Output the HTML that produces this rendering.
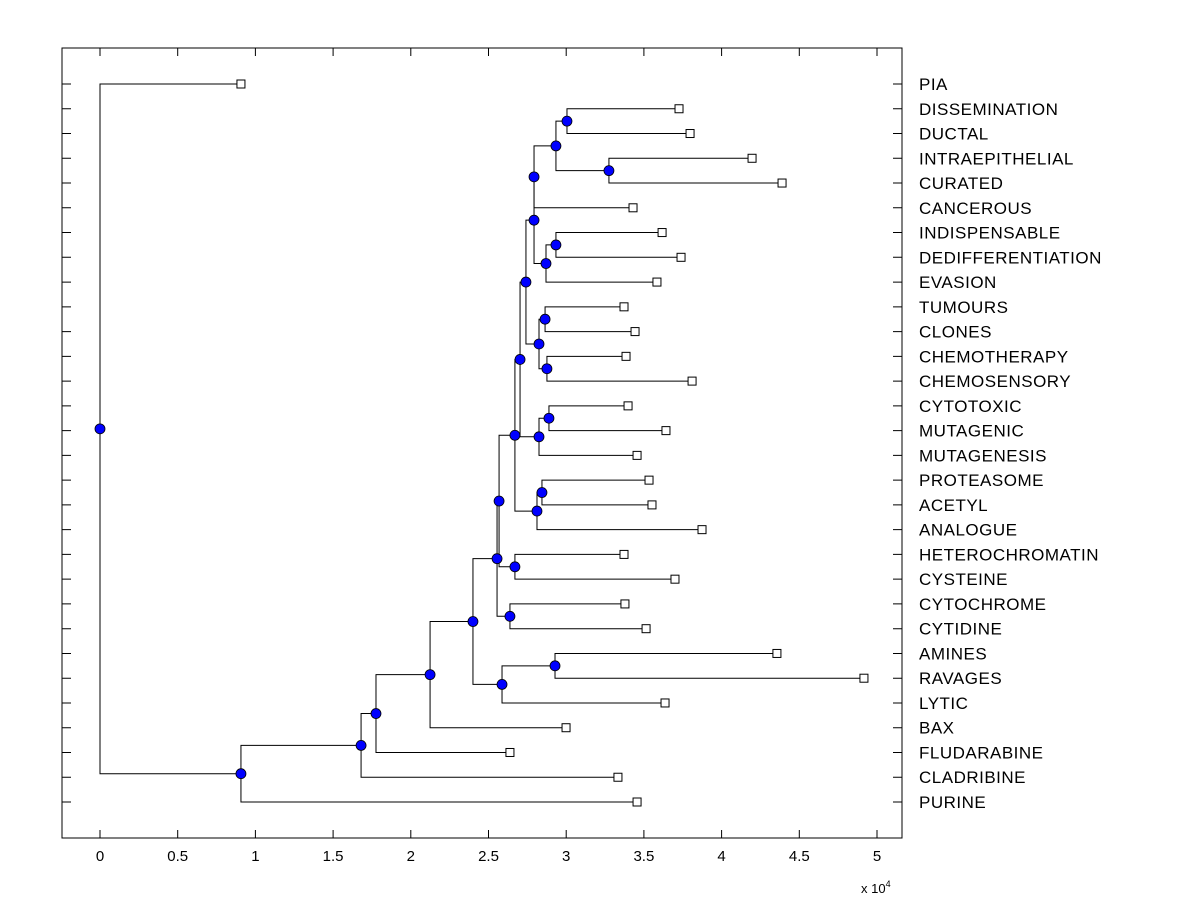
<!DOCTYPE html>
<html><head><meta charset="utf-8"><style>
html,body{margin:0;padding:0;background:#fff;}
svg{display:block;font-family:"Liberation Sans",Arial,sans-serif;}
</style></head><body>
<svg id="chart" width="1200" height="900" xmlns="http://www.w3.org/2000/svg">
<rect x="0" y="0" width="1200" height="900" fill="#fff"/>
<rect x="62" y="48" width="840" height="790" fill="none" stroke="#000" stroke-width="1"/>
<g id="tree"></g>
<g id="axes"></g>
</svg>
<script>
const leafLabels = ["PIA","DISSEMINATION","DUCTAL","INTRAEPITHELIAL","CURATED","CANCEROUS","INDISPENSABLE","DEDIFFERENTIATION","EVASION","TUMOURS","CLONES","CHEMOTHERAPY","CHEMOSENSORY","CYTOTOXIC","MUTAGENIC","MUTAGENESIS","PROTEASOME","ACETYL","ANALOGUE","HETEROCHROMATIN","CYSTEINE","CYTOCHROME","CYTIDINE","AMINES","RAVAGES","LYTIC","BAX","FLUDARABINE","CLADRIBINE","PURINE"];
const leafHeights = [0.907,3.726,3.797,4.196,4.389,3.43,3.617,3.739,3.584,3.372,3.443,3.385,3.81,3.398,3.642,3.456,3.533,3.552,3.874,3.372,3.70,3.378,3.514,4.356,4.916,3.636,2.999,2.638,3.333,3.456];
// internal nodes: height and children ("L#" leaf, "N#" node)
const nodeHeights = [0,0.907,1.68,1.776,2.124,2.40,2.587,2.928,2.555,2.638,2.568,2.67,2.67,2.812,2.844,2.703,2.825,2.889,2.741,2.825,2.864,2.876,2.793,2.87,2.934,2.793,2.934,3.005,3.275];
const nodeLeft  = ["L0","N2","N3","N4","N5","N8","N7","L23","N10","L21","N12","L19","N15","N14","L16","N18","N17","L13","N22","N20","L9","L11","N25","N24","L6","N26","N27","L1","L3"];
const nodeRight = ["N1","L29","L28","L27","L26","N6","L25","L24","N9","L22","N11","L20","N13","L18","L17","N16","L15","L14","N19","N21","L10","L12","N23","L8","L7","L5","N28","L2","L4"];
const xTicks = [0,0.5,1,1.5,2,2.5,3,3.5,4,4.5,5];

const X0=100, XS=155.4, Y0=84, YS=(802-84)/29;
const xs = v => X0 + v*XS;
const ys = i => Y0 + i*YS;
const NS="http://www.w3.org/2000/svg";
const tree=document.getElementById('tree'), axes=document.getElementById('axes');
function mk(tag,attrs,parent){const e=document.createElementNS(NS,tag);for(const k in attrs)e.setAttribute(k,attrs[k]);parent.appendChild(e);return e;}

const cache={};
function pos(id){
  if(cache[id])return cache[id];
  const i=+id.slice(1);
  let r;
  if(id[0]==='L') r={x:xs(leafHeights[i]),y:ys(i)};
  else{const a=pos(nodeLeft[i]),b=pos(nodeRight[i]);r={x:xs(nodeHeights[i]),y:(a.y+b.y)/2};}
  cache[id]=r;return r;
}
for(let i=0;i<nodeHeights.length;i++){
  const p=pos('N'+i),a=pos(nodeLeft[i]),b=pos(nodeRight[i]);
  const pl=mk('path',{d:`M${a.x},${a.y}H${p.x}V${b.y}H${b.x}`,fill:'none',stroke:'#000','stroke-width':1},tree);
  
  
}
for(let i=0;i<leafLabels.length;i++){
  const p=pos('L'+i);
  const s=mk('rect',{x:p.x-4,y:p.y-4,width:8,height:8,fill:'#fff',stroke:'#000','stroke-width':1},tree);
  
  
  const t=mk('text',{x:919,y:p.y+6,'font-size':17,'letter-spacing':0.5,fill:'#000'},axes);
  t.textContent=leafLabels[i];
  
  
  const tl=mk('path',{d:`M62,${p.y}H71M902,${p.y}H893`,stroke:'#000','stroke-width':1},axes);
  
  
}
for(let i=0;i<nodeHeights.length;i++){
  const p=pos('N'+i);
  const c=mk('circle',{cx:p.x,cy:p.y,r:5,fill:'#0000ff',stroke:'#000','stroke-width':0.8},tree);
  
  
}
xTicks.forEach(v=>{
  const x=xs(v);
  const tk=mk('path',{d:`M${x},838V830M${x},48V56`,stroke:'#000','stroke-width':1},axes);
  
  
  const t=mk('text',{x:x,y:861,'font-size':15,'text-anchor':'middle',fill:'#000'},axes);
  t.textContent=String(v);
  
  
});
const ex=mk('text',{x:861,y:893,'font-size':13,fill:'#000'},axes);
ex.innerHTML='x 10<tspan dy="-6" font-size="9">4</tspan>';


</script>
</body></html>
